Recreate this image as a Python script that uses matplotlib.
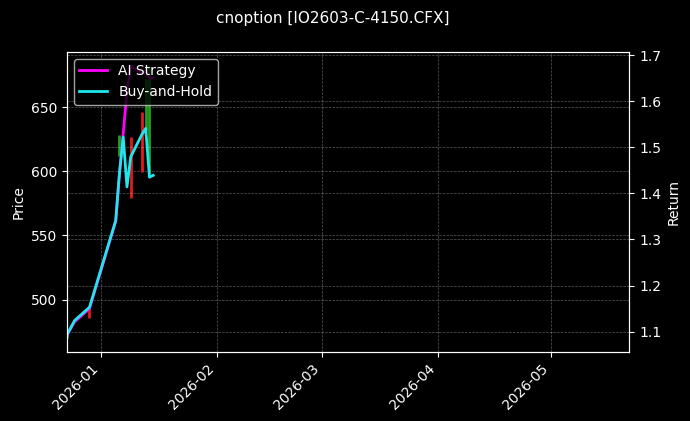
import matplotlib
matplotlib.use('Agg')
import matplotlib.pyplot as plt
import matplotlib.dates as mdates
import pandas as pd

plt.style.use('dark_background')

# price bars (high-low)
bar_dates = pd.to_datetime(['2025-12-23', '2025-12-29', '2026-01-06', '2026-01-09',
                            '2026-01-12', '2026-01-13', '2026-01-14'])
bar_low = [470, 486, 612, 579, 599.5, 632, 598]
bar_high = [476, 494, 628, 627, 646, 672, 682]
bar_up = [True, False, True, False, False, True, True]

# equity curves
line_dates = pd.to_datetime(['2025-12-23', '2025-12-25', '2025-12-29', '2026-01-05',
                             '2026-01-06', '2026-01-07', '2026-01-08', '2026-01-09',
                             '2026-01-12', '2026-01-13', '2026-01-14', '2026-01-15'])
ai_strategy = [1.092, 1.121, 1.150, 1.339, 1.442, 1.530, 1.620, 1.677,
               1.660, 1.665, 1.650, 1.650]
buy_hold = [1.093, 1.124, 1.153, 1.341, 1.445, 1.522, 1.414, 1.479,
            1.528, 1.541, 1.435, 1.439]

fig = plt.figure(figsize=(6.9, 4.21), dpi=100)
ax = fig.add_axes([0.0971, 0.1646, 0.8149, 0.7124])
ax2 = ax.twinx()

colors = ['#22a022' if u else '#e31a1c' for u in bar_up]
ax.vlines(bar_dates, bar_low, bar_high, colors=colors, linewidth=2)
ax.set_ylabel('Price')
ax.set_ylim(459.4, 693.2)
ax.grid(True, linestyle='--', linewidth=0.5, alpha=0.35)

ax2.plot(line_dates, ai_strategy, color='magenta', linewidth=2, label='AI Strategy')
ax2.plot(line_dates, buy_hold, color='#1ee8ee', linewidth=2, label='Buy-and-Hold')
ax2.set_ylabel('Return')
ax2.set_ylim(1.0565, 1.707)
ax2.grid(True, linestyle='--', linewidth=0.5, alpha=0.35)
ax2.legend(loc='upper left')

ax.set_xlim(pd.Timestamp('2025-12-23'), pd.Timestamp('2026-05-22'))
ax.xaxis.set_major_locator(mdates.MonthLocator())
ax.xaxis.set_major_formatter(mdates.DateFormatter('%Y-%m'))
for lbl in ax.get_xticklabels():
    lbl.set_rotation(45)
    lbl.set_ha('right')

fig.text(0.482, 0.957, 'cnoption [IO2603-C-4150.CFX]', ha='center', va='center', fontsize=11)

fig.savefig('out.png', dpi=100)
